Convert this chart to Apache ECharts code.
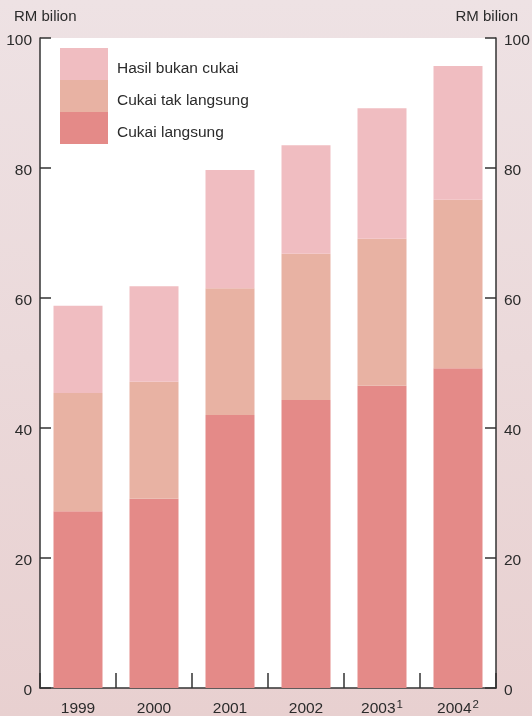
<!DOCTYPE html>
<html>
<head>
<meta charset="utf-8">
<script src="https://cdn.jsdelivr.net/npm/echarts@6/dist/echarts.min.js"></script>
<style>
  html, body { margin: 0; padding: 0; }
  body { background: linear-gradient(#eee2e4, #e8d0d0); }
  #chart { width: 532px; height: 716px; }
</style>
</head>
<body>
<div id="chart"></div>
<script>
// Federal government revenue, RM billion
const years = ['1999', '2000', '2001', '2002', '2003{sup|1}', '2004{sup|2}'];
const cukaiLangsung = [27.2, 29.1, 42.0, 44.3, 46.5, 49.2];
const cukaiTakLangsung = [18.2, 18.0, 19.5, 22.5, 22.6, 25.9];
const hasilBukanCukai = [13.4, 14.7, 18.2, 16.7, 20.1, 20.6];
const yTicks = [0, 20, 40, 60, 80, 100];

const FONT = '"Liberation Sans", Arial, sans-serif';
const TEXT = '#2b2b2b';
const AXIS = '#333';

const chart = echarts.init(document.getElementById('chart'), null, { renderer: 'canvas' });

function valueAxis(pos) {
  return {
    type: 'value',
    position: pos,
    min: yTicks[0],
    max: yTicks[yTicks.length - 1],
    interval: yTicks[1] - yTicks[0],
    name: 'RM bilion',
    nameLocation: 'end',
    nameGap: 14,
    nameTextStyle: {
      color: TEXT, fontFamily: FONT, fontSize: 15,
      align: pos === 'left' ? 'left' : 'right',
      padding: pos === 'left' ? [0, 0, 0, -26] : [0, -22, 0, 0]
    },
    axisLine: { show: true, lineStyle: { color: AXIS, width: 1.5 } },
    axisTick: { show: true, inside: true, length: 11, lineStyle: { color: AXIS, width: 1.5 } },
    axisLabel: {
      color: TEXT, fontFamily: FONT, fontSize: 15.5, margin: 8,
      formatter: '{v|{value}}',
      rich: { v: { color: TEXT, fontFamily: FONT, fontSize: 15.5, padding: [6, 0, 0, 0] } }
    },
    splitLine: { show: false }
  };
}

const barW = 49;

chart.setOption({
  animation: false,
  backgroundColor: 'transparent',
  textStyle: { fontFamily: FONT },
  grid: {
    left: 40, right: 36, top: 38, bottom: 28,
    show: true, backgroundColor: '#ffffff', borderWidth: 0,
    containLabel: false,
    outerBoundsMode: 'none'
  },
  legend: {
    orient: 'vertical',
    left: 60, top: 48, padding: 0,
    itemWidth: 48, itemHeight: 32, itemGap: 0,
    icon: 'rect',
    formatter: '{t|{name}}',
    textStyle: {
      color: TEXT, fontFamily: FONT, fontSize: 15.5,
      rich: { t: { color: TEXT, fontFamily: FONT, fontSize: 15.5, padding: [10, 0, 0, 4] } }
    },
    data: ['Hasil bukan cukai', 'Cukai tak langsung', 'Cukai langsung']
  },
  xAxis: {
    type: 'category',
    data: years,
    axisLine: { show: true, lineStyle: { color: AXIS, width: 1.5 } },
    axisTick: { show: true, inside: true, interval: 0, length: 15, lineStyle: { color: AXIS, width: 1.5 } },
    axisLabel: {
      interval: 0,
      color: TEXT, fontFamily: FONT, fontSize: 15.5, margin: 8, lineHeight: 26,
      rich: {
        sup: { fontSize: 11.5, fontFamily: FONT, color: TEXT, padding: [0, 0, 8, 1] }
      }
    }
  },
  yAxis: [valueAxis('left'), valueAxis('right')],
  series: [
    {
      name: 'Cukai langsung', type: 'bar', stack: 'hasil', barWidth: barW,
      itemStyle: { color: '#e48a88' }, data: cukaiLangsung
    },
    {
      name: 'Cukai tak langsung', type: 'bar', stack: 'hasil', barWidth: barW,
      itemStyle: { color: '#e8b2a3' }, data: cukaiTakLangsung
    },
    {
      name: 'Hasil bukan cukai', type: 'bar', stack: 'hasil', barWidth: barW,
      itemStyle: { color: '#f0bdc1' }, data: hasilBukanCukai
    }
  ]
});
</script>
</body>
</html>
